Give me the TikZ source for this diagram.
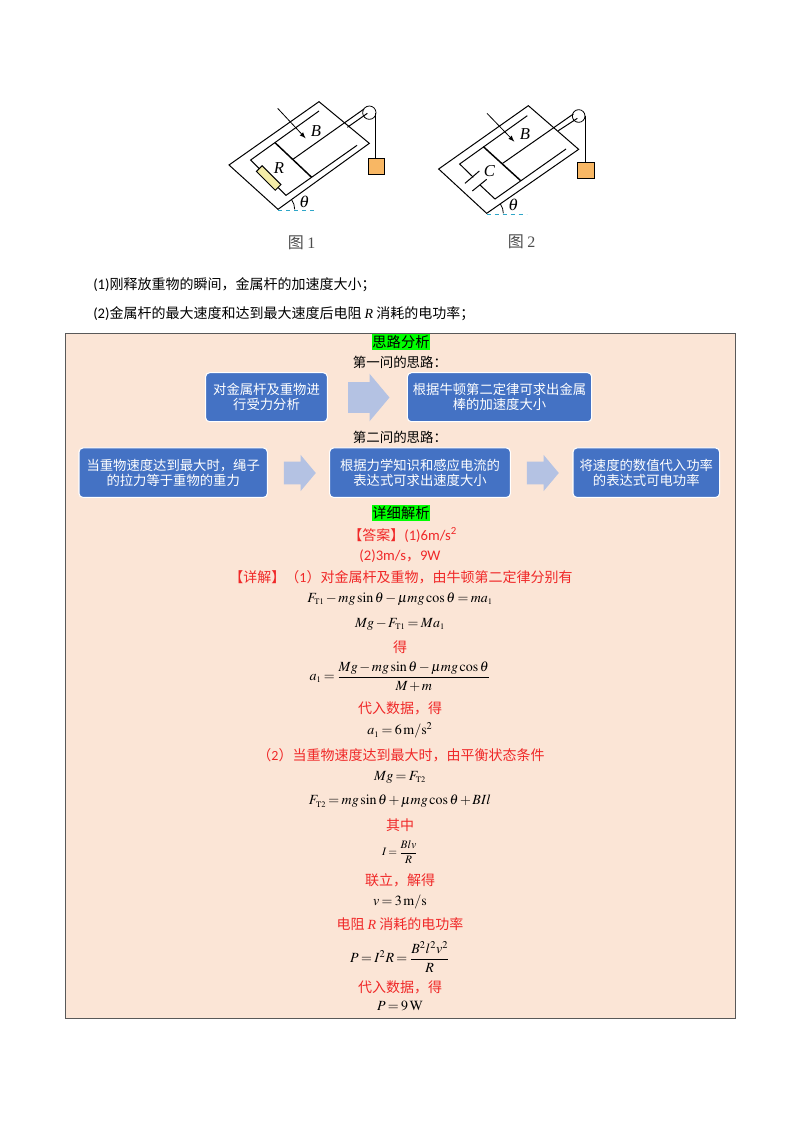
\documentclass[tikz,border=0pt]{standalone}
\usepackage{mathptmx}
\usepackage[no-math]{fontspec}
\setmainfont{Carlito}
\newfontfamily\cjk{Noto Sans CJK SC}
\newfontfamily\tnr{Liberation Serif}
\usetikzlibrary{shapes.arrows}
\definecolor{panelbg}{HTML}{FBE5D6}
\definecolor{boxblue}{HTML}{4472C4}
\definecolor{arrowblue}{HTML}{B4C2E3}
\definecolor{redtext}{HTML}{F02828}
\definecolor{weight}{HTML}{F8B764}
\definecolor{resfill}{HTML}{F5EDA8}
\definecolor{dashblue}{HTML}{2EA6C8}
\tikzset{
    rail/.style={line width=0.75pt},
    rod/.style={line width=1.1pt},
    rope/.style={line width=0.6pt},
    figlabel/.style={font=\fontsize{12.5}{14}\selectfont\tnr\itshape,inner sep=0pt},
    figcap/.style={font=\fontsize{12}{14}\selectfont\cjk,text=black!70,inner sep=0pt},
    flowbox/.style={draw=white,line width=0.8pt,fill=boxblue,text=white,rounded corners=3pt,align=center,inner sep=0pt,font=\fontsize{10}{11}\selectfont\cjk},
    flowarrow/.style={single arrow,fill=arrowblue,inner xsep=0pt,single arrow tip angle=100},
    redline/.style={text=redtext,inner sep=0pt,font=\fontsize{10.5}{13}\selectfont\cjk},
    blackline/.style={text=black,inner sep=0pt,font=\fontsize{10.5}{13}\selectfont\cjk},
    head/.style={fill=green,inner sep=0pt,minimum width=42pt,minimum height=11.5pt,font=\fontsize{10.7}{13}\selectfont\cjk},
    eqn/.style={inner sep=0pt,font=\fontsize{10.5}{13}\selectfont}
}
\newcommand{\tsub}[1]{_{\scriptscriptstyle\mathrm{#1}}}
\begin{document}
\begin{tikzpicture}[x=0.75pt,y=-0.75pt]
\medmuskip=2mu
\thickmuskip=3mu
\useasboundingbox (0,0) rectangle (800,1132);

\begin{scope}[shift={(210,90)},x=0.25pt,y=-0.25pt]
    \draw[rail] (57,225) -- (327,35) -- (478,160) -- (204,358) -- cycle;
    \draw[rail] (327,63) -- (122,210) -- (228,316) -- (441,166);
    \draw[rod] (195,158) -- (305,262);
    \draw[rail] (250,207) -- (462,57);
    \draw[rail] (412,112) -- (472,70);
    \draw[rope] (478,68) circle (20);
    \draw[rope] (497,68) -- (497,205);
    \draw[rail,fill=weight] (475,205) rectangle (524,253);
    \node[draw,rail,fill=resfill,rotate=-45,minimum width=20pt,minimum height=6pt,inner sep=0pt] (res1) at (176,264) {};
    \draw[-latex,rope] (203,55) -- (287,145);
    \draw[dashed,dashblue,rope] (204,360) -- (320,360);
    \draw[rope] (254,358) arc[start angle=0,end angle=-35,radius=50];
    \node[figlabel] (fieldA) at (318,123) {B};
    \node[figlabel] (resA) at (207,233) {R};
    \node[figlabel] (angleA) at (283,335) {$\theta$};
    \node[figcap] (capA) at (275,457) {图 {\tnr 1}};
\end{scope}

\begin{scope}[shift={(420,90)},x=0.25pt,y=-0.25pt]
    \draw[rail] (56,237) -- (325,47) -- (476,178) -- (200,370) -- cycle;
    \draw[rail] (322,77) -- (119,222) -- (160,262);
    \draw[rail] (180,285) -- (225,327) -- (438,177);
    \draw[rail] (135,280) -- (178,243);
    \draw[rail] (157,303) -- (200,268);
    \draw[rod] (190,170) -- (302,272);
    \draw[rail] (248,220) -- (460,72);
    \draw[rail] (415,122) -- (472,85);
    \draw[rope] (476,78) circle (19);
    \draw[rope] (496,78) -- (496,218);
    \draw[rail,fill=weight] (473,218) rectangle (522,265);
    \draw[-latex,rope] (201,70) -- (283,155);
    \draw[dashed,dashblue,rope] (200,372) -- (320,372);
    \draw[rope] (250,370) arc[start angle=0,end angle=-35,radius=50];
    \node[figlabel] (fieldB) at (315,132) {B};
    \node[figlabel] (capC) at (208,243) {C};
    \node[figlabel] (angleB) at (280,345) {$\theta$};
    \node[figcap] (capB) at (305,455) {图 {\tnr 2}};
\end{scope}

\node[blackline,anchor=west] (qone) at (93,285) {{\rmfamily\fontsize{11}{13}\selectfont (1)}刚释放重物的瞬间，金属杆的加速度大小；};
\node[blackline,anchor=west] (qtwo) at (93,314) {{\rmfamily\fontsize{11}{13}\selectfont (2)}金属杆的最大速度和达到最大速度后电阻 {\tnr\itshape R} 消耗的电功率；};

\draw[black!65,line width=0.7pt,fill=panelbg] (65,333) rectangle (735,1018);

\node[head] (headA) at (401,342) {思路分析};
\node[head] (headB) at (401,513) {详细解析};
\node[blackline,font=\fontsize{10.1}{13}\selectfont\cjk] (stepA) at (400,362.5) {第一问的思路：};
\node[blackline,font=\fontsize{10.1}{13}\selectfont\cjk] (stepB) at (400,437.5) {第二问的思路：};

\foreach \name/\xa/\xb/\yc/\hei/\txt in {
    boxa/205.6/327.4/397.2/49/{对金属杆及重物进\\行受力分析},
    boxb/407.4/591.7/397.2/49/{根据牛顿第二定律可求出金属\\棒的加速度大小},
    boxc/79/267.4/472.7/49.5/{当重物速度达到最大时，绳子\\的拉力等于重物的重力},
    boxd/329.6/510.4/472.7/49.5/{根据力学知识和感应电流的\\表达式可求出速度大小},
    boxe/573/719.6/472.7/49.5/{将速度的数值代入功率\\的表达式可电功率}}
{
    \node[flowbox,minimum width={(\xb-\xa)*0.75pt},minimum height={\hei*0.75pt}] (\name) at ({(\xa+\xb)/2},\yc) {\txt};
}

\node[flowarrow,inner ysep=11.25pt,minimum height=31pt,single arrow head extend=6.4pt] (arra) at (362.4,397.5) {};
\node[flowarrow,inner ysep=8.35pt,minimum height=24pt,single arrow head extend=5.1pt] (arrb) at (295,473) {};
\node[flowarrow,inner ysep=8.35pt,minimum height=24pt,single arrow head extend=5.1pt] (arrc) at (538,473) {};

\node[redline] (ans) at (402.7,535) {【答案】{\rmfamily\fontsize{11}{13}\selectfont (1)6m/s\textsuperscript{2}}};
\node[redline] (anstwo) at (400,555.7) {{\rmfamily\fontsize{11}{13}\selectfont (2)3m/s}，{\rmfamily\fontsize{11}{13}\selectfont 9W}};
\node[redline] (solone) at (401,577) {【详解】（{\rmfamily 1}）对金属杆及重物，由牛顿第二定律分别有};
\node[redline] (soltwo) at (401,755.7) {（{\rmfamily 2}）当重物速度达到最大时，由平衡状态条件};
\node[redline] (respow) at (400,924) {电阻 {\tnr\itshape R} 消耗的电功率};

\foreach \y/\txt in {647/得,708/代入数据，得,825/其中,880/联立，解得,987.7/代入数据，得}
{
    \node[redline] (red\y) at (400,\y) {\txt};
}

\node[eqn] (eqa) at (400,599) {$F\tsub{T1}-mg\sin\theta-\mu mg\cos\theta=ma\tsub{1}$};
\node[eqn] (eqb) at (400,624) {$Mg-F\tsub{T1}=Ma\tsub{1}$};
\node[eqn] (eqc) at (400,676.7) {$a\tsub{1}=\displaystyle\frac{Mg-mg\sin\theta-\mu mg\cos\theta}{M+m}$};
\node[eqn] (eqd) at (400,730.7) {$a\tsub{1}=6\,\mathrm{m/s^{2}}$};
\node[eqn] (eqe) at (400,777) {$Mg=F\tsub{T2}$};
\node[eqn] (eqf) at (400,801.7) {$F\tsub{T2}=mg\sin\theta+\mu mg\cos\theta+BIl$};
\node[eqn,font=\fontsize{8.5}{10}\selectfont] (eqg) at (400,852) {$I=\displaystyle\frac{Blv}{R}$};
\node[eqn] (eqh) at (400,901.7) {$v=3\,\mathrm{m/s}$};
\node[eqn] (eqi) at (400,956.7) {$P=I^{2}R=\displaystyle\frac{B^{2}l^{2}v^{2}}{R}$};
\node[eqn] (eqj) at (400,1005.7) {$P=9\,\mathrm{W}$};

\end{tikzpicture}
\end{document}
